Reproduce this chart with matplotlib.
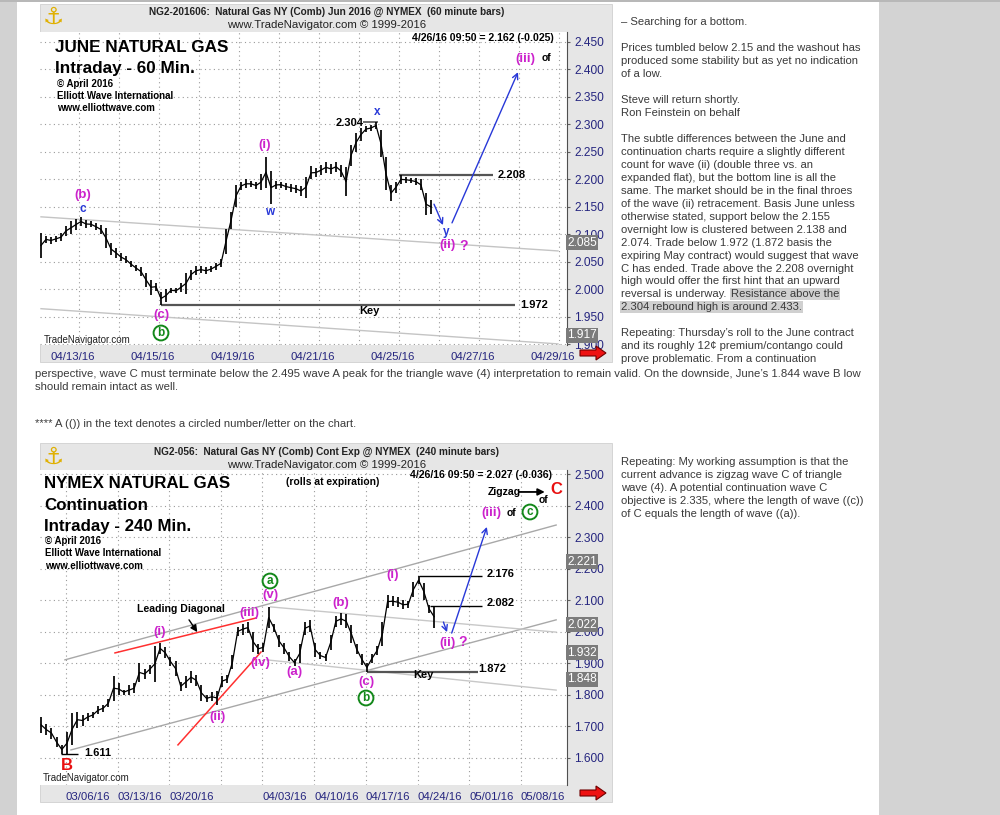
import matplotlib
matplotlib.use('Agg')
import matplotlib.pyplot as plt
from matplotlib.patches import Rectangle, Polygon
import numpy as np

plt.rcParams['font.family'] = ['Liberation Sans', 'DejaVu Sans']

# ---------------- data: June contract, 60 min bars (x = trading days from 04/13/16)
jun_t0, jun_step = -0.95, 0.125
jun_lo = [2.057, 2.085, 2.083, 2.086, 2.088, 2.098, 2.100, 2.108, 2.115, 2.112,
          2.113, 2.108, 2.100, 2.075, 2.062, 2.058, 2.052, 2.048, 2.040, 2.033,
          2.025, 2.005, 1.990, 1.998, 1.972, 1.978, 1.994, 1.993, 1.996, 1.992,
          2.018, 2.026, 2.030, 2.028, 2.032, 2.036, 2.040, 2.065, 2.110, 2.150,
          2.180, 2.184, 2.186, 2.182, 2.180, 2.185, 2.155, 2.182, 2.185, 2.180,
          2.178, 2.176, 2.170, 2.167, 2.200, 2.205, 2.208, 2.212, 2.210, 2.214,
          2.205, 2.170, 2.225, 2.250, 2.270, 2.286, 2.288, 2.292, 2.240, 2.180,
          2.160, 2.176, 2.192, 2.194, 2.193, 2.190, 2.180, 2.135, 2.138]
jun_hi = [2.103, 2.097, 2.095, 2.098, 2.102, 2.115, 2.124, 2.128, 2.132, 2.126,
          2.124, 2.120, 2.118, 2.112, 2.085, 2.075, 2.066, 2.060, 2.052, 2.045,
          2.040, 2.030, 2.018, 2.012, 1.995, 2.000, 2.003, 2.002, 2.012, 2.030,
          2.036, 2.042, 2.042, 2.040, 2.042, 2.048, 2.055, 2.110, 2.140, 2.190,
          2.196, 2.200, 2.198, 2.196, 2.210, 2.241, 2.215, 2.198, 2.196, 2.194,
          2.192, 2.190, 2.188, 2.205, 2.224, 2.220, 2.226, 2.232, 2.228, 2.232,
          2.226, 2.222, 2.262, 2.284, 2.293, 2.297, 2.299, 2.304, 2.290, 2.240,
          2.190, 2.196, 2.208, 2.205, 2.203, 2.202, 2.200, 2.175, 2.162]
jun_dates = ['04/13/16', '04/15/16', '04/19/16', '04/21/16', '04/25/16', '04/27/16', '04/29/16']
jun_chan_up = ([-0.95, 11.975], [2.132, 2.070])
jun_chan_dn = ([-0.95, 11.975], [1.965, 1.901])
jun_key = ([2.05, 10.9], 1.972)
jun_208 = ([8.0, 10.35], 2.208)
jun_304 = ([7.1, 7.475], 2.304)
jun_arrow_a = ((8.875, 2.155), (9.1, 2.117))
jun_arrow_b = ((9.325, 2.121), (10.975, 2.395))
jun_tags = [2.085, 1.917]

# ---------------- data: continuation, 240 min bars (x = trading days from 03/06/16)
con_t0, con_step = -2.4, 0.5
con_lo = [1.678, 1.672, 1.660, 1.632, 1.611, 1.611, 1.640, 1.695, 1.700, 1.715,
          1.725, 1.738, 1.745, 1.760, 1.780, 1.800, 1.800, 1.798, 1.805, 1.840,
          1.850, 1.865, 1.840, 1.930, 1.915, 1.890, 1.860, 1.812, 1.820, 1.835,
          1.828, 1.780, 1.775, 1.778, 1.768, 1.825, 1.835, 1.880, 1.985, 1.990,
          1.995, 1.935, 1.930, 1.935, 2.010, 2.000, 1.950, 1.930, 1.905, 1.890,
          1.900, 1.990, 2.000, 1.920, 1.912, 1.905, 1.940, 2.015, 2.020, 2.010,
          1.965, 1.930, 1.895, 1.872, 1.900, 1.925, 1.955, 2.075, 2.080, 2.078,
          2.070, 2.075, 2.110, 2.150, 2.100, 2.060, 2.012]
con_hi = [1.729, 1.705, 1.695, 1.665, 1.640, 1.680, 1.740, 1.745, 1.735, 1.742,
          1.745, 1.762, 1.768, 1.785, 1.860, 1.835, 1.815, 1.830, 1.835, 1.900,
          1.880, 1.895, 1.955, 1.963, 1.950, 1.920, 1.905, 1.840, 1.860, 1.875,
          1.862, 1.830, 1.800, 1.808, 1.810, 1.860, 1.862, 1.925, 2.015, 2.025,
          2.030, 2.000, 1.960, 1.965, 2.078, 2.025, 1.990, 1.965, 1.935, 1.912,
          1.960, 2.030, 2.035, 1.965, 1.935, 1.930, 1.990, 2.050, 2.060, 2.055,
          2.020, 1.960, 1.930, 1.900, 1.930, 1.955, 2.030, 2.115, 2.112, 2.108,
          2.100, 2.098, 2.157, 2.176, 2.155, 2.085, 2.082]
con_weeks = [0, 5, 10, 15, 19, 24, 29, 34, 39, 44]
con_dates = {0: '03/06/16', 5: '03/13/16', 10: '03/20/16', 19: '04/03/16', 24: '04/10/16',
             29: '04/17/16', 34: '04/24/16', 39: '05/01/16', 44: '05/08/16'}
con_chan_up = ([-0.1, 47.4], [1.910, 2.338])
con_chan_dn = ([0.48, 47.4], [1.624, 2.037])
con_red_up = ([4.74, 18.4], [1.932, 2.043])
con_red_dn = ([10.83, 18.86], [1.640, 1.935])
con_tri_up = ([19.8, 47.4], [2.078, 1.998])
con_tri_dn = ([19.4, 47.4], [1.910, 1.814])
con_key = ([29.1, 39.85], 1.872)
con_176 = ([34.1, 40.2], 2.176)
con_082 = ([35.2, 40.2], 2.082)
con_611 = ([-0.5, 1.2], 1.611)
con_arrow_a = ((36.5, 2.030), (36.85, 1.998))
con_arrow_b = ((37.3, 1.995), (40.7, 2.332))
con_arrow_ld = ((11.9, 2.037), (12.7, 1.998))
con_arrow_zz = ((43.8, 2.443), (46.3, 2.443))
con_tags = [2.221, 2.022, 1.932, 1.848]

# ---------------- commentary text
col_top = [
    (22, ['– Searching for a bottom.']),
    (48, ['Prices tumbled below 2.15 and the washout has',
          'produced some stability but as yet no indication',
          'of a low.']),
    (100, ['Steve will return shortly.', 'Ron Feinstein on behalf']),
    (139, ['The subtle differences between the June and',
           'continuation charts require a slightly different',
           'count for wave (ii) (double three vs. an',
           'expanded flat), but the bottom line is all the',
           'same. The market should be in the final throes',
           'of the wave (ii) retracement. Basis June unless',
           'otherwise stated, support below the 2.155',
           'overnight low is clustered between 2.138 and',
           '2.074. Trade below 1.972 (1.872 basis the',
           'expiring May contract) would suggest that wave',
           'C has ended. Trade above the 2.208 overnight',
           'high would offer the first hint that an upward']),
    (333, ['Repeating: Thursday\u2019s roll to the June contract',
           'and its roughly 12¢ premium/contango could',
           'prove problematic. From a continuation']),
    (462, ['Repeating: My working assumption is that the',
           'current advance is zigzag wave C of triangle',
           'wave (4). A potential continuation wave C',
           'objective is 2.335, where the length of wave ((c))',
           'of C equals the length of wave ((a)).']),
]
wide_lines = ['perspective, wave C must terminate below the 2.495 wave A peak for the triangle wave (4) '
              'interpretation to remain valid. On the downside, June\u2019s 1.844 wave B low',
              'should remain intact as well.']
footnote = '**** A (()) in the text denotes a circled number/letter on the chart.'

W, H = 1000, 815
fig = plt.figure(figsize=(W / 100, H / 100), dpi=100)
fig.patch.set_facecolor('white')

MAG, BLU, GRN, RED, NAVY = '#cc22cc', '#2838d8', '#13881a', '#e81010', '#25257f'
TXT = '#3a3a3a'


def fx(x):
    return x / W


def fy(y):
    return 1 - y / H


def ptext(x, y, s, **kw):
    kw.setdefault('va', 'center')
    kw.setdefault('ha', 'left')
    return fig.text(fx(x), fy(y), s, **kw)


def prect(x0, y0, x1, y1, **kw):
    kw.setdefault('zorder', -10)
    fig.patches.append(Rectangle((fx(x0), fy(y1)), (x1 - x0) / W, (y1 - y0) / H,
                                 transform=fig.transFigure, **kw))


def red_arrow(x, y):
    pts = [(x, y - 3), (x + 16, y - 3), (x + 16, y - 7), (x + 26, y), (x + 16, y + 7),
           (x + 16, y + 3), (x, y + 3)]
    fig.patches.append(Polygon([(fx(a), fy(b)) for a, b in pts], closed=True, zorder=5,
                               transform=fig.transFigure, fc='#ee1111', ec='#700000', lw=0.8))


def circled(x, y, s):
    ptext(x, y, s, ha='center', color=GRN, fontsize=8.5, fontweight='bold', zorder=6,
          bbox=dict(boxstyle='circle,pad=0.12', fc='white', ec=GRN, lw=1.4))


# page background
prect(0, 0, 17, H, fc='#d2d2d2', ec='none')
prect(879, 0, W, H, fc='#d3d3d3', ec='none')
prect(0, 0, W, 2, fc='#b8b8b8', ec='none')

# chart panels
prect(40, 4, 612, 362, fc='#e6e6e6', ec='#d0d0d0', lw=0.6)
prect(40, 443, 612, 802, fc='#e6e6e6', ec='#d0d0d0', lw=0.6)


def setup_axes(ax, ylim, xlim, yticks):
    ax.set_facecolor('white')
    ax.set_xlim(*xlim)
    ax.set_ylim(*ylim)
    for s in ['top', 'left', 'bottom']:
        ax.spines[s].set_visible(False)
    ax.spines['right'].set_color('#505050')
    ax.spines['right'].set_linewidth(0.8)
    ax.yaxis.tick_right()
    ax.set_yticks(yticks)
    ax.set_yticklabels([f'{v:.3f}' for v in yticks])
    ax.tick_params(axis='y', colors='#606060', labelcolor=NAVY, labelsize=8.6,
                   length=2, width=0.8, pad=3)
    ax.tick_params(axis='x', length=0, labelcolor=NAVY, labelsize=8.2, pad=5)
    for v in yticks:
        ax.axhline(v, color='#9a9a9a', lw=0.8, ls=(0, (1, 3)), zorder=0)


def draw_bars(ax, t0, step, lo, hi):
    lo = np.array(lo)
    hi = np.array(hi)
    t = t0 + step * np.arange(len(lo))
    ax.vlines(t, lo, hi, color='black', lw=1.25, zorder=3)
    ax.plot(t, (lo + hi) / 2, color='black', lw=0.9, zorder=3)


def tags(ax, vals):
    for v in vals:
        ax.text(1.0, v, f'{v:.3f}', transform=ax.get_yaxis_transform(), ha='left', va='center',
                color='white', fontsize=8.6, zorder=5, clip_on=False,
                bbox=dict(boxstyle='square,pad=0.12', fc='#7b7b7b', ec='none'))


def arrow(ax, a, b, color, lw=1.0, style='->'):
    ax.annotate('', xy=b, xytext=a,
                arrowprops=dict(arrowstyle=style, color=color, lw=lw, shrinkA=0, shrinkB=0))


# ---------------- top chart
ax1 = fig.add_axes([fx(40), fy(345), 527 / W, 313 / H])
setup_axes(ax1, (1.899, 2.468), (-0.975, 12.2), np.round(np.arange(1.90, 2.451, 0.05), 3))
for d in range(0, 13):
    ax1.axvline(d, color='#9a9a9a', lw=0.8, ls=(0, (1, 3)), zorder=0)
ax1.set_xticks([2 * k - 0.15 for k in range(len(jun_dates))])
ax1.set_xticklabels(jun_dates)
ax1.plot(*jun_chan_up, color='#c4c4c4', lw=1.0, zorder=1)
ax1.plot(*jun_chan_dn, color='#c4c4c4', lw=1.0, zorder=1)
ax1.hlines(jun_key[1], *jun_key[0], color='#555555', lw=1.6, zorder=2)
ax1.hlines(jun_208[1], *jun_208[0], color='#555555', lw=1.6, zorder=2)
ax1.hlines(jun_304[1], *jun_304[0], color='#555555', lw=1.2, zorder=2)
draw_bars(ax1, jun_t0, jun_step, jun_lo, jun_hi)
arrow(ax1, *jun_arrow_a, BLU)
arrow(ax1, *jun_arrow_b, BLU)
tags(ax1, jun_tags)

# ---------------- bottom chart
ax2 = fig.add_axes([fx(40), fy(785), 527 / W, 315 / H])
setup_axes(ax2, (1.5127, 2.5127), (-2.51, 48.45), np.round(np.arange(1.6, 2.501, 0.1), 3))
for d in con_weeks:
    ax2.axvline(d, color='#9a9a9a', lw=0.8, ls=(0, (1, 3)), zorder=0)
ax2.set_xticks(list(con_dates.keys()))
ax2.set_xticklabels(list(con_dates.values()), ha='left')
for ln in [con_chan_up, con_chan_dn]:
    ax2.plot(*ln, color='#a8a8a8', lw=1.0, zorder=1)
for ln in [con_tri_up, con_tri_dn]:
    ax2.plot(*ln, color='#c8c8c8', lw=1.0, zorder=1)
ax2.plot(*con_red_up, color='#ff3030', lw=1.1, zorder=2)
ax2.plot(*con_red_dn, color='#ff3030', lw=1.1, zorder=2)
ax2.hlines(con_key[1], *con_key[0], color='#555555', lw=1.6, zorder=2)
ax2.hlines(con_176[1], *con_176[0], color='black', lw=1.0, zorder=2)
ax2.hlines(con_082[1], *con_082[0], color='black', lw=1.0, zorder=2)
ax2.hlines(con_611[1], *con_611[0], color='black', lw=1.0, zorder=2)
draw_bars(ax2, con_t0, con_step, con_lo, con_hi)
arrow(ax2, *con_arrow_a, BLU)
arrow(ax2, *con_arrow_b, BLU)
arrow(ax2, *con_arrow_ld, 'black', style='-|>')
arrow(ax2, *con_arrow_zz, 'black', lw=1.3, style='-|>')
tags(ax2, con_tags)

# ---------------- panel headers / titles
for y0, head, sub in [(0, 'NG2-201606:  Natural Gas NY (Comb) Jun 2016 @ NYMEX  (60 minute bars)',
                       'www.TradeNavigator.com © 1999-2016'),
                      (440, 'NG2-056:  Natural Gas NY (Comb) Cont Exp @ NYMEX  (240 minute bars)',
                       'www.TradeNavigator.com © 1999-2016')]:
    ptext(327, y0 + 12, head, ha='center', fontsize=7.2, fontweight='bold', color='#222222')
    ptext(327, y0 + 25, sub, ha='center', fontsize=8.2, color='#222222')
    ptext(53, y0 + 17, '\u2693', ha='center', fontsize=17, color='#e0b000',
          family=['DejaVu Sans'])
    red_arrow(580, y0 + 353)

ptext(554, 38, '4/26/16 09:50 = 2.162 (-0.025)', ha='right', fontsize=7.6, fontweight='bold')
ptext(552, 475, '4/26/16 09:50 = 2.027 (-0.036)', ha='right', fontsize=7.6, fontweight='bold')
ptext(333, 482, '(rolls at expiration)', ha='center', fontsize=7.4, fontweight='bold')

ptext(55, 47, 'JUNE NATURAL GAS', fontsize=12.3, fontweight='bold')
ptext(55, 68, 'Intraday - 60 Min.', fontsize=12.3, fontweight='bold')
for i, s in enumerate(['© April 2016', 'Elliott Wave International', 'www.elliottwave.com']):
    ptext(57, 84 + 12 * i, s, fontsize=7, fontweight='bold')
    ptext(45, 541 + 12.5 * i, s, fontsize=7, fontweight='bold')
ptext(44, 483, 'NYMEX NATURAL GAS', fontsize=12.2, fontweight='bold')
ptext(44, 505, 'Continuation', fontsize=12.2, fontweight='bold')
ptext(44, 527, 'Intraday - 240 Min.', fontsize=12.2, fontweight='bold')
ptext(44, 340, 'TradeNavigator.com', fontsize=7, color='#222222')
ptext(43, 778, 'TradeNavigator.com', fontsize=7, color='#222222')

# ---------------- wave labels, top chart
wl = dict(fontweight='bold', ha='center')
ptext(83, 195, '(b)', color=MAG, fontsize=9.5, **wl)
ptext(83, 209, 'c', color=BLU, fontsize=8.5, **wl)
ptext(265, 145, '(i)', color=MAG, fontsize=9.5, **wl)
ptext(270, 212, 'w', color=BLU, fontsize=8.5, **wl)
ptext(377, 112, 'x', color=BLU, fontsize=8.5, **wl)
ptext(364, 123, '2.304', ha='right', fontsize=8, fontweight='bold')
ptext(446, 232, 'y', color=BLU, fontsize=8.5, **wl)
ptext(447, 245, '(ii)', color=MAG, fontsize=9.5, **wl)
ptext(464, 246, '?', color=MAG, fontsize=10, **wl)
ptext(525, 59, '(iii)', color=MAG, fontsize=9.5, **wl)
ptext(546, 58, 'of', fontsize=7.5, **wl)
ptext(161, 315, '(c)', color=MAG, fontsize=9.5, **wl)
circled(161, 333, 'b')
ptext(369, 311, 'Key', ha='center', fontsize=8, fontweight='bold')
ptext(520, 305, '1.972', fontsize=8, fontweight='bold')
ptext(498, 175, '2.208', fontsize=8, fontweight='bold')

# ---------------- wave labels, bottom chart
circled(270, 581, 'a')
ptext(270, 595, '(v)', color=MAG, fontsize=9.5, **wl)
ptext(249, 613, '(iii)', color=MAG, fontsize=9.5, **wl)
ptext(137, 609, 'Leading Diagonal', fontsize=7.6, fontweight='bold')
ptext(160, 632, '(i)', color=MAG, fontsize=9.5, **wl)
ptext(217, 717, '(ii)', color=MAG, fontsize=9.5, **wl)
ptext(260, 663, '(iv)', color=MAG, fontsize=9.5, **wl)
ptext(294, 672, '(a)', color=MAG, fontsize=9.5, **wl)
ptext(341, 603, '(b)', color=MAG, fontsize=9.5, **wl)
ptext(366, 682, '(c)', color=MAG, fontsize=9.5, **wl)
circled(366, 698, 'b')
ptext(393, 575, '(i)', color=MAG, fontsize=9.5, **wl)
ptext(487, 574, '2.176', fontsize=8, fontweight='bold')
ptext(487, 603, '2.082', fontsize=8, fontweight='bold')
ptext(447, 643, '(ii)', color=MAG, fontsize=9.5, **wl)
ptext(463, 642, '?', color=MAG, fontsize=10, **wl)
ptext(478, 669, '1.872', fontsize=8, fontweight='bold')
ptext(423, 675, 'Key', ha='center', fontsize=8, fontweight='bold')
ptext(491, 513, '(iii)', color=MAG, fontsize=9.5, **wl)
ptext(511, 513, 'of', fontsize=7.5, **wl)
circled(530, 512, 'c')
ptext(488, 492, 'Zigzag', fontsize=7.6, fontweight='bold')
ptext(556, 490, 'C', color=RED, fontsize=12, **wl)
ptext(543, 500, 'of', fontsize=7.5, **wl)
ptext(67, 765, 'B', color=RED, fontsize=12, **wl)
ptext(84, 753, '1.611', fontsize=8, fontweight='bold')

# ---------------- commentary column
LS = 12.95
for y0, lines in col_top:
    for i, s in enumerate(lines):
        ptext(621, y0 + LS * i, s, fontsize=8.1, color=TXT)
hl = dict(boxstyle='square,pad=0.1', fc='#d0d0d0', ec='none')
t = ptext(621, 294, 'reversal is underway. ', fontsize=8.1, color=TXT)
bb = t.get_window_extent(fig.canvas.get_renderer())
ptext(bb.x1 + 1, 294, 'Resistance above the', fontsize=8.1, color=TXT, bbox=hl)
ptext(621, 307, '2.304 rebound high is around 2.433.', fontsize=8.1, color=TXT, bbox=hl)
for i, s in enumerate(wide_lines):
    ptext(35, 374 + 13 * i, s, fontsize=8.2, color=TXT)
ptext(35, 424, footnote, fontsize=8.1, color=TXT)

fig.savefig('out.png', dpi=100)
